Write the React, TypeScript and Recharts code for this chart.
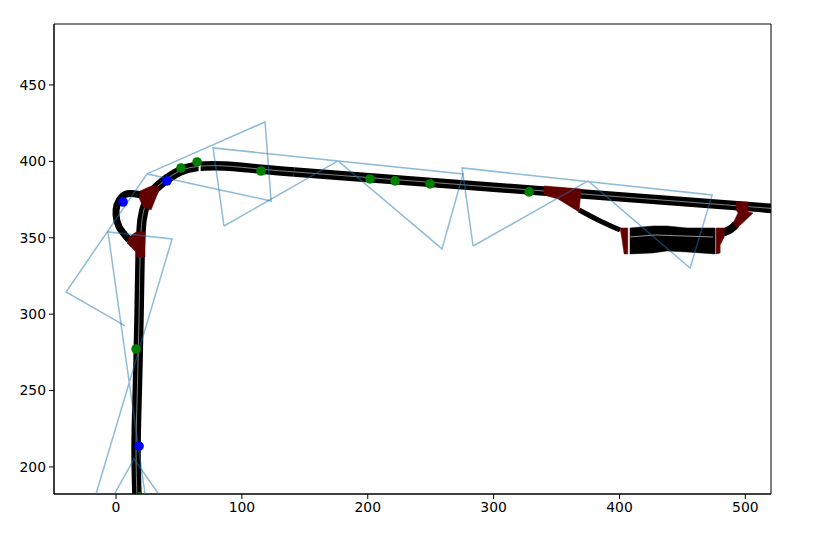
// App.tsx - road network with sensor points and blue field-of-view outlines
import React from 'react';
import { LineChart, Line, XAxis, YAxis, ReferenceArea } from 'recharts';

type Pt = { x: number; y: number };
const pts = (rows: number[][]): Pt[] => rows.map(([x, y]) => ({ x, y }));

const xTicks = [0, 100, 200, 300, 400, 500];
const yTicks = [200, 250, 300, 350, 400, 450];
const xRange = [-49.3, 520.4];
const yRange = [182.3, 489.9];

// road centre lines
const bendRoad = pts([
  [16.7, 178.4], [15.9, 211.1], [16.7, 243.9], [17.5, 270.0], [18.3, 300.0], [19.1, 337.4],
  [20.7, 362.0], [24.5, 373.8], [30.2, 381.3], [40.5, 388.6], [51.6, 394.0], [64.4, 396.6],
  [85.8, 397.0], [115.2, 394.9], [141.4, 393.1],
]);
const straightRoad = pts([[141.4, 393.1], [329.0, 381.3], [540.0, 368.0]]);
const loopRamp = pts([
  [19.9, 378.0], [11.1, 378.9], [4.8, 377.0], [0.8, 371.5], [0.0, 364.9], [2.4, 357.1], [10.3, 348.6],
]);
const offRamp = pts([[367.9, 368.2], [384.6, 361.0], [400.5, 355.1]]);
const onRamp = pts([[482.3, 353.2], [488.6, 355.8], [492.7, 359.0]]);
const plazaCentre = pts([[408.4, 350.5], [428.3, 351.8], [474.4, 350.5]]);
const roadGap = pts([[66.4, 400.0], [66.4, 393.0]]);
const clippedPoint = pts([[17.6, 183.0], [20.6, 183.0]]);

// filled areas
const plaza = pts([
  [408.4, 356.4], [426.7, 357.7], [437.8, 357.7], [453.7, 356.4], [476.0, 356.4],
  [476.0, 339.4], [453.7, 340.7], [437.8, 341.4], [426.7, 340.1], [408.4, 339.4],
]);
const junctions = [
  pts([[19.1, 380.6], [26.2, 383.3], [32.6, 384.6], [34.2, 381.3], [27.8, 368.2], [21.5, 370.2], [18.3, 376.1]]),
  pts([[10.3, 350.5], [15.9, 353.8], [23.0, 353.8], [23.0, 337.4], [15.9, 337.4], [15.9, 340.7], [8.7, 346.6]]),
  pts([[340.1, 383.9], [369.5, 381.9], [367.9, 366.9], [351.2, 375.4], [340.1, 378.0]]),
  pts([[400.5, 356.4], [406.6, 356.4], [406.6, 339.4], [403.7, 339.4], [402.1, 348.6]]),
  pts([[476.8, 356.4], [483.2, 356.4], [483.2, 350.5], [480.0, 345.3], [480.0, 340.1], [476.8, 339.4]]),
  pts([[492.7, 373.4], [502.2, 373.4], [502.2, 366.9], [506.2, 366.2], [493.5, 356.4], [490.3, 359.7], [494.2, 366.2], [492.7, 368.2]]),
];

// blue outlines
const outlines = [
  pts([[23.0, 182.3], [-6.4, 353.8], [44.5, 349.2], [-15.9, 182.3]]),
  pts([[-1.3, 182.3], [14.3, 205.2], [33.8, 182.3]]),
  pts([[7.2, 292.3], [-39.7, 314.5], [24.6, 391.8], [123.2, 374.1], [118.4, 425.8], [24.6, 391.8]]),
  pts([[85.8, 357.7], [176.4, 400.3], [259.0, 342.7], [275.7, 391.8], [77.1, 408.8], [85.8, 357.7]]),
  pts([[283.7, 344.6], [375.1, 387.2], [456.1, 330.2], [473.6, 378.0], [274.9, 395.7], [283.7, 344.6]]),
];

const greenPoints = pts([
  [15.9, 277.2], [51.6, 395.7], [64.4, 399.6], [115.2, 393.7], [201.8, 388.5],
  [221.7, 387.2], [249.5, 385.2], [328.2, 380.0],
]);
const bluePoints = pts([[5.6, 373.4], [40.5, 387.2], [18.3, 213.7]]);

const DARK_RED = '#620000';
const CENTRE = '#b8b8b8';

const toPath = (points: any[]) => points.map((p) => `${p.x},${p.y}`).join(' ');

// Recharts puts dots above every line, so anything that has to sit over a filled
// shape is drawn from the series' scaled points in its dot callback too
const fillShape = (fill: string) => (props: any) => {
  if (props.index !== 0) return <g key={props.key} />;
  return <polygon key={props.key} points={toPath(props.points)} fill={fill} stroke={fill} strokeWidth={0.5} strokeLinejoin="round" />;
};
const strokeShape = (stroke: string, width: number, opacity = 1) => (props: any) => {
  if (props.index !== 0) return <g key={props.key} />;
  return <polyline key={props.key} points={toPath(props.points)} fill="none" stroke={stroke} strokeWidth={width} strokeOpacity={opacity} />;
};

const roadLine = (data: Pt[], key: string, width: number, color = '#000000', curve: any = 'linear') => (
  <Line
    key={key}
    data={data}
    dataKey="y"
    type={curve}
    stroke={color}
    strokeWidth={width}
    dot={false}
    activeDot={false}
    isAnimationActive={false}
  />
);

const shapeLine = (data: Pt[], key: string, dot: any) => (
  <Line
    key={key}
    data={data}
    dataKey="y"
    stroke="none"
    dot={dot}
    activeDot={false}
    isAnimationActive={false}
  />
);

const tickStyle = { fontFamily: 'DejaVu Sans', fontSize: 13.9, fill: '#000000' };

export default function App() {
  return (
    <div style={{ position: 'absolute', left: 0, top: 0 }}>
      <LineChart width={820} height={549} margin={{ top: 24, right: 49, bottom: 0, left: 0 }}>
        <XAxis
          dataKey="x"
          type="number"
          domain={xRange}
          ticks={xTicks}
          allowDataOverflow
          height={55}
          tick={tickStyle}
          tickSize={5}
          tickMargin={3}
          stroke="#000000"
          interval={0}
        />
        <YAxis
          dataKey="y"
          type="number"
          domain={yRange}
          ticks={yTicks}
          allowDataOverflow
          width={54}
          tick={tickStyle}
          tickSize={5}
          tickMargin={3}
          stroke="#000000"
          interval={0}
        />
        {roadLine(bendRoad, 'bend', 9.5, '#000000', 'natural')}
        {roadLine(straightRoad, 'straight', 9.5)}
        {roadLine(loopRamp, 'loop', 7, '#000000', 'natural')}
        {roadLine(offRamp, 'off', 5, '#000000', 'natural')}
        {roadLine(onRamp, 'on', 8, '#000000', 'natural')}
        {roadLine(bendRoad, 'bendCentre', 0.7, CENTRE, 'natural')}
        {roadLine(straightRoad, 'straightCentre', 0.7, CENTRE)}
        {roadLine(roadGap, 'gap', 2, '#ffffff')}
        {roadLine(clippedPoint, 'clippedPoint', 2, '#008000')}
        {shapeLine(plaza, 'plaza', fillShape('#000000'))}
        {shapeLine(plazaCentre, 'plazaCentre', strokeShape(CENTRE, 0.8))}
        {junctions.map((j, i) => shapeLine(j, `junction-${i}`, fillShape(DARK_RED)))}
        {outlines.map((o, i) => shapeLine(o, `outline-${i}`, strokeShape('#1f77b4', 1.5, 0.5)))}
        {shapeLine(greenPoints, 'green', { r: 4.8, fill: '#008000', stroke: 'none' })}
        {shapeLine(bluePoints, 'blue', { r: 4.8, fill: '#0000ff', stroke: 'none' })}
        <ReferenceArea
          x1={xRange[0]}
          x2={xRange[1]}
          y1={yRange[0]}
          y2={yRange[1]}
          fill="none"
          stroke="#000000"
          strokeWidth={1}
          fillOpacity={0}
        />
      </LineChart>
    </div>
  );
}
